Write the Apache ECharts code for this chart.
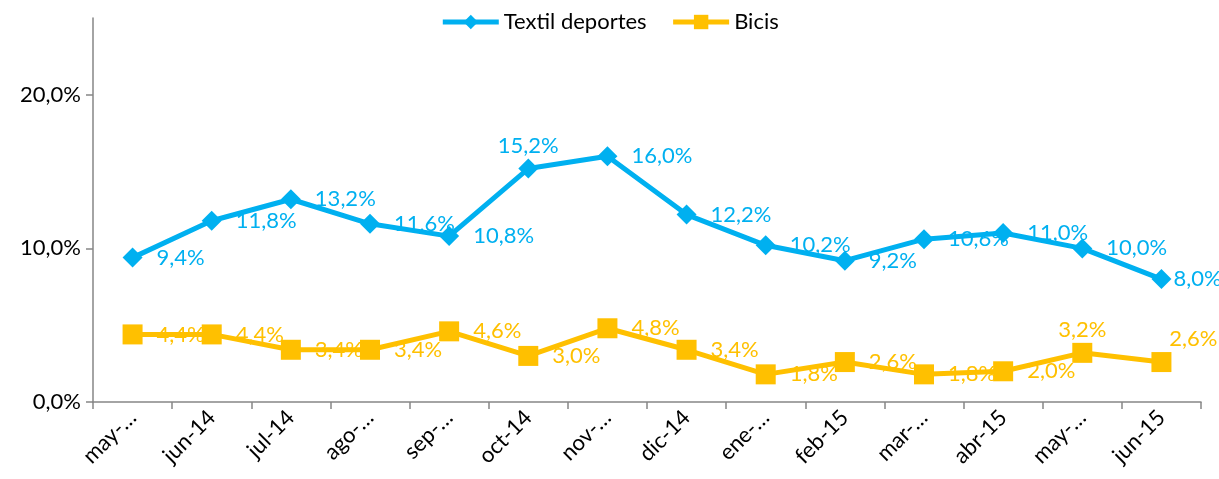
<!DOCTYPE html>
<html>
<head>
<meta charset="utf-8">
<script src="https://cdn.jsdelivr.net/npm/echarts@6/dist/echarts.min.js"></script>
<style>
  html, body { margin: 0; padding: 0; background: #fff; }
  #chart { width: 1219px; height: 479px; }
</style>
</head>
<body>
<div id="chart"></div>
<script>
// categorías (tal como se ven en el eje)
const months = ['may-…', 'jun-14', 'jul-14', 'ago-…', 'sep-…', 'oct-14', 'nov-…',
  'dic-14', 'ene-…', 'feb-15', 'mar-…', 'abr-15', 'may-…', 'jun-15']
// valores en %
const textil = [9.4, 11.8, 13.2, 11.6, 10.8, 15.2, 16.0, 12.2, 10.2, 9.2, 10.6, 11.0, 10.0, 8.0]
const bicis = [4.4, 4.4, 3.4, 3.4, 4.6, 3.0, 4.8, 3.4, 1.8, 2.6, 1.8, 2.0, 3.2, 2.6]
const yTicks = [0, 10, 20]

const FONT = 'Lato'
const FS = 22
const BLUE = '#00b0f0'
const GOLD = '#ffc000'
const AXIS = '#868686'

const fmt = v => v.toFixed(1).replace('.', ',') + '%'

// etiquetas: a la derecha salvo algunas que Excel coloca en otro sitio
const labelRight = { show: true, position: 'right', distance: 14, fontFamily: FONT, fontSize: FS }
const labelOverrides = {
  textil: { 5: { position: 'top', distance: 2 }, 13: { distance: 2 } },
  bicis: { 12: { position: 'top', distance: 2 }, 13: { position: 'top', distance: 2, offset: [32, 0] } }
}

const buildData = (values, overrides) => values.map((v, i) => (
  overrides[i] ? { value: v, label: overrides[i] } : v
))

const chart = echarts.init(document.getElementById('chart'))

chart.setOption({
  animation: false,
  legend: {
    top: 6,
    left: 'center',
    itemWidth: 56,
    itemHeight: 18,
    itemGap: 24,
    lineStyle: { width: 5 },
    textStyle: { fontFamily: FONT, fontSize: FS, color: '#000' },
    data: ['Textil deportes', 'Bicis']
  },
  grid: { left: 93, right: 18, top: 18, bottom: 77, containLabel: false },
  xAxis: {
    type: 'category',
    data: months,
    boundaryGap: true,
    axisLine: { lineStyle: { color: AXIS, width: 1.5 } },
    axisTick: { show: true, length: 7, lineStyle: { color: AXIS, width: 1.5 } },
    axisLabel: {
      rotate: 45,
      interval: 0,
      margin: 12,
      fontFamily: FONT,
      fontSize: FS,
      color: '#000'
    }
  },
  yAxis: {
    type: 'value',
    min: 0,
    max: 25,
    interval: 10,
    axisLine: { show: true, lineStyle: { color: AXIS, width: 1.5 } },
    axisTick: { show: true, length: 7, customValues: yTicks, lineStyle: { color: AXIS, width: 1.5 } },
    splitLine: { show: false },
    axisLabel: {
      customValues: yTicks,
      margin: 12,
      fontFamily: FONT,
      fontSize: FS,
      color: '#000',
      formatter: v => fmt(v)
    }
  },
  series: [
    {
      name: 'Textil deportes',
      type: 'line',
      data: buildData(textil, labelOverrides.textil),
      symbol: 'diamond',
      symbolSize: 20,
      lineStyle: { color: BLUE, width: 5 },
      itemStyle: { color: BLUE },
      label: Object.assign({}, labelRight, { color: BLUE, formatter: p => fmt(p.value) }),
      z: 3
    },
    {
      name: 'Bicis',
      type: 'line',
      data: buildData(bicis, labelOverrides.bicis),
      symbol: 'rect',
      symbolSize: 20,
      lineStyle: { color: GOLD, width: 5 },
      itemStyle: { color: GOLD },
      label: Object.assign({}, labelRight, { color: GOLD, formatter: p => fmt(p.value) }),
      z: 2
    }
  ]
})
</script>
</body>
</html>
